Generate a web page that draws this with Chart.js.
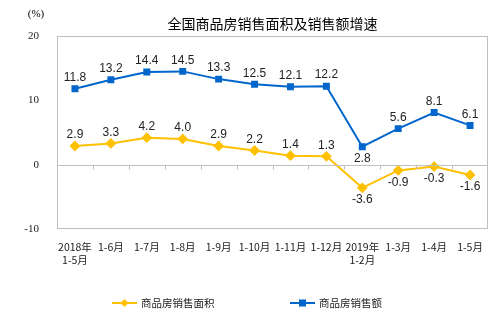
<!DOCTYPE html>
<html>
<head>
<meta charset="utf-8">
<script src="https://cdn.jsdelivr.net/npm/chart.js@4"></script>
<style>
  body { margin: 0; background: #fff; }
  #wrap { width: 500px; height: 323px; }
</style>
</head>
<body>
<div id="wrap"><canvas id="line_graph"></canvas></div>
<script>
var labels = [['2018年', '1-5月'], '1-6月', '1-7月', '1-8月', '1-9月', '1-10月', '1-11月', '1-12月', ['2019年', '1-2月'], '1-3月', '1-4月', '1-5月'];
var areaGrowth = [2.9, 3.3, 4.2, 4.0, 2.9, 2.2, 1.4, 1.3, -3.6, -0.9, -0.3, -1.6];
var salesGrowth = [11.8, 13.2, 14.4, 14.5, 13.3, 12.5, 12.1, 12.2, 2.8, 5.6, 8.1, 6.1];
var yTicks = [-10, 0, 10, 20];

var yellow = '#FFC000';
var blue = '#0066CC';
var cjk = '"Noto Sans CJK SC", "Noto Sans", sans-serif';

// frame, zero line, ticks, labels, title, legend
var decor = {
	id: 'decor',
	afterDatasetsDraw: function(chart) {
		var ctx = chart.ctx;
		var a = chart.chartArea;
		var x = chart.scales.x;
		var y = chart.scales.y;
		ctx.save();
		ctx.strokeStyle = '#bfbfbf';
		ctx.lineWidth = 1;
		ctx.strokeRect(a.left + 0.5, a.top + 0.5, a.right - a.left - 1, a.bottom - a.top - 1);
		var y0 = Math.round(y.getPixelForValue(0)) + 0.5;
		ctx.beginPath();
		ctx.moveTo(a.left, y0);
		ctx.lineTo(a.right, y0);
		var step = (a.right - a.left) / labels.length;
		for (var i = 1; i < labels.length; i++) {
			var tx = Math.round(a.left + step * i) + 0.5;
			ctx.moveTo(tx, y0);
			ctx.lineTo(tx, y0 + 4);
		}
		ctx.stroke();

		// data labels
		ctx.font = '12px "Liberation Sans", Arial, sans-serif';
		ctx.fillStyle = '#222';
		ctx.textAlign = 'center';
		chart.data.datasets.forEach(function(ds, di) {
			var meta = chart.getDatasetMeta(di);
			meta.data.forEach(function(pt, i) {
				var v = ds.data[i];
				var below = v < 0 || (di === 1 && i === 8);
				ctx.textBaseline = below ? 'top' : 'bottom';
				var ly = below ? pt.y + 6 : pt.y - 5;
				ctx.fillText(v.toFixed(1), pt.x, ly);
			});
		});

		// title and unit
		ctx.fillStyle = '#000';
		ctx.textBaseline = 'middle';
		ctx.font = '14px ' + cjk;
		ctx.fillText('全国商品房销售面积及销售额增速', (a.left + a.right) / 2, 24);
		ctx.font = '11px "Liberation Serif", serif';
		ctx.fillText('(%)', 36, 14);

		// legend
		var ly2 = 303;
		var items = [
			{ text: '商品房销售面积', color: yellow, x: 112, style: 'diamond' },
			{ text: '商品房销售额', color: blue, x: 290, style: 'square' }
		];
		items.forEach(function(it) {
			ctx.strokeStyle = it.color;
			ctx.fillStyle = it.color;
			ctx.lineWidth = 2;
			ctx.beginPath();
			ctx.moveTo(it.x, ly2);
			ctx.lineTo(it.x + 25, ly2);
			ctx.stroke();
			var cx = it.x + 12.5;
			if (it.style === 'square') {
				ctx.fillRect(cx - 3.5, ly2 - 3.5, 7, 7);
			} else {
				ctx.beginPath();
				ctx.moveTo(cx, ly2 - 4);
				ctx.lineTo(cx + 4, ly2);
				ctx.lineTo(cx, ly2 + 4);
				ctx.lineTo(cx - 4, ly2);
				ctx.closePath();
				ctx.fill();
			}
			ctx.fillStyle = '#222';
			ctx.textAlign = 'left';
			ctx.font = '10.5px ' + cjk;
			ctx.fillText(it.text, it.x + 29, ly2);
		});
		ctx.restore();
	}
};

var lineGraph = new Chart(document.getElementById('line_graph'), {
	type: 'line',
	data: {
		labels: labels,
		datasets: [
			{
				label: '商品房销售面积',
				data: areaGrowth,
				borderColor: yellow,
				backgroundColor: yellow,
				borderWidth: 2,
				pointStyle: 'rectRot',
				pointRadius: 4,
				tension: 0
			},
			{
				label: '商品房销售额',
				data: salesGrowth,
				borderColor: blue,
				backgroundColor: blue,
				borderWidth: 2,
				pointStyle: 'rect',
				pointRadius: 3.5,
				tension: 0
			}
		]
	},
	options: {
		responsive: true,
		maintainAspectRatio: false,
		animation: false,
		layout: { padding: { top: 36, right: 12, left: 0, bottom: 0 } },
		plugins: {
			legend: { display: false },
			tooltip: { enabled: false },
			title: { display: false }
		},
		scales: {
			x: {
				offset: true,
				grid: { display: false },
				border: { display: false },
				ticks: {
					padding: 3,
					maxRotation: 0,
					autoSkip: false,
					color: '#222',
					font: { family: cjk, size: 10.5, lineHeight: 1.25 }
				},
				afterFit: function(scale) { scale.height = 94; }
			},
			y: {
				min: -10,
				max: 20,
				afterBuildTicks: function(scale) {
					scale.ticks = yTicks.map(function(v) { return { value: v }; });
				},
				grid: { display: false },
				border: { display: false },
				ticks: {
					padding: 10,
					color: '#222',
					font: { family: '"Liberation Serif", serif', size: 11 }
				},
				afterFit: function(scale) { scale.width = 57; }
			}
		}
	},
	plugins: [decor]
});
</script>
</body>
</html>
